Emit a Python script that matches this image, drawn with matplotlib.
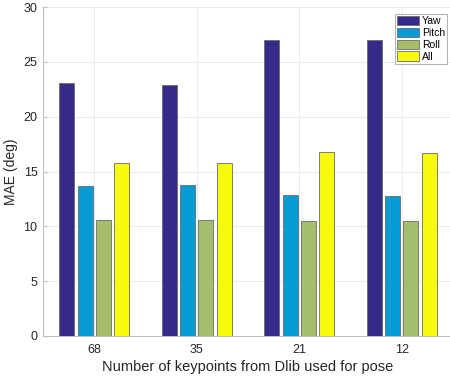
import numpy as np
import matplotlib
matplotlib.use('Agg')
import matplotlib.pyplot as plt

matplotlib.rcParams['font.family'] = 'Liberation Sans'

keypoints = ["68", "35", "21", "12"]
series = ["Yaw", "Pitch", "Roll", "All"]
yaw = [23.1, 22.9, 27.0, 26.95]
pitch = [13.65, 13.75, 12.9, 12.75]
roll = [10.55, 10.55, 10.5, 10.45]
all_err = [15.75, 15.75, 16.8, 16.7]

colors = ["#352a87", "#069bd2", "#a5be6b", "#f8fa0d"]

fig = plt.figure(figsize=(4.5, 3.79), dpi=100)
ax = fig.add_axes([43/450, 43/379, 410/450, 329/379])

x = np.arange(1, len(keypoints) + 1)
step = 0.178
width = 0.146
for i, (vals, c) in enumerate(zip([yaw, pitch, roll, all_err], colors)):
    ax.bar(x + (i - 1.5)*step, vals, width, color=c, edgecolor="#6b6b6b",
           linewidth=0.6, label=series[i], zorder=3)

ax.set_xlim(0.5, 4.5)
ax.set_ylim(0, 30)
ax.set_xticks(x)
ax.set_xticklabels(keypoints)
ax.set_yticks(np.arange(0, 31, 5))
ax.grid(True, color="#ebebeb", linewidth=0.7, zorder=0)
ax.set_axisbelow(True)

for s in ["top", "right"]:
    ax.spines[s].set_visible(False)
for s in ["left", "bottom"]:
    ax.spines[s].set_color("#c0c0c0")
    ax.spines[s].set_linewidth(0.8)
ax.tick_params(direction="in", length=3, color="#c0c0c0", labelsize=9,
               labelcolor="#262626")
ax.tick_params(axis="x", length=0, pad=6)
ax.tick_params(axis="y", pad=4)

ax.set_xlabel("Number of keypoints from Dlib used for pose", fontsize=10.5,
              color="#262626", labelpad=3)
ax.set_ylabel("MAE (deg)", fontsize=10, color="#262626", labelpad=4)

leg = ax.legend(loc="upper right", bbox_to_anchor=(447/450, 1 - 14/379),
                bbox_transform=fig.transFigure, fontsize=7.5, frameon=True,
                fancybox=False, handlelength=2.1, handleheight=1.0,
                handletextpad=0.25, borderpad=0.2, labelspacing=0.15,
                borderaxespad=0)
leg.get_frame().set_edgecolor("#8c8c8c")
leg.get_frame().set_linewidth(0.6)

fig.savefig("out.png", dpi=100)
